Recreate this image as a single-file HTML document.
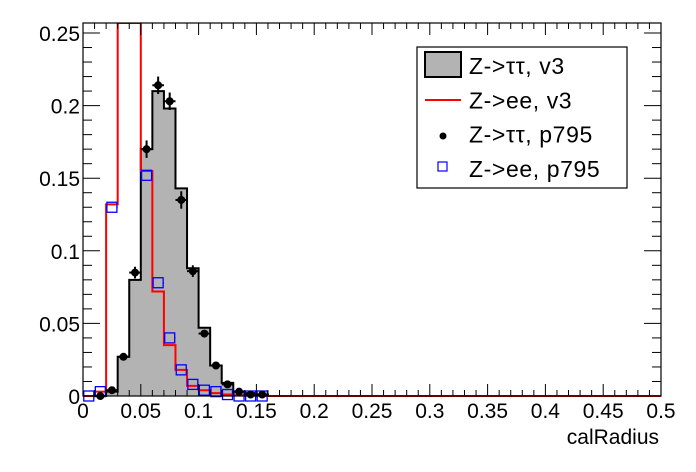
<!DOCTYPE html>
<html><head><meta charset="utf-8"><style>
body{margin:0;background:#fff;}
svg{display:block;font-family:"Liberation Sans",sans-serif;}
</style></head><body>
<svg id="s" width="696" height="472" xmlns="http://www.w3.org/2000/svg"></svg>
<script>
const L=83,R=661,T=23,B=396;
const X=v=>L+v*(R-L)/0.5, Y=v=>B-v*(B-33)/0.25;
let h='';
const blk={0.02:0.003,0.03:0.027,0.04:0.08,0.05:0.17,0.06:0.21,0.07:0.198,0.08:0.143,0.09:0.088,0.1:0.047,0.11:0.021,0.12:0.009,0.13:0.003,0.14:0.002,0.15:0.001};
let p='M'+X(0)+','+Y(0);
for(let i=0;i<16;i++){let x0=+(i*0.01).toFixed(2),v=blk[x0]||0;p+=' L'+X(x0)+','+Y(v)+' L'+X(x0+0.01)+','+Y(v);}
p+=' L'+X(0.16)+','+Y(0)+' L'+X(0.5)+','+Y(0);
h+=`<path d="${p} Z" fill="#b3b3b3" stroke="none"/><path d="${p}" fill="none" stroke="#000" stroke-width="2"/>`;
const red=[0,0.003,0.132,0.4,0.4,0.155,0.072,0.035,0.018,0.007,0.004,0.002,0.001,0.0005,0.0003,0.0002];
let q='M'+X(0)+','+Y(0);
red.forEach((v,i)=>{let y=Math.max(Y(v),T);q+=' L'+X(i*0.01)+','+y+' L'+X(i*0.01+0.01)+','+y;});
q+=' L'+X(0.16)+','+Y(0)+' L'+X(0.5)+','+Y(0);
h+=`<svg x="${L}" y="${T}" width="${R-L}" height="${B-T+2}" overflow="hidden"><path transform="translate(${-L},${-T})" d="${q}" fill="none" stroke="#f00" stroke-width="2"/></svg>`;
const bl=[[0.005,0],[0.015,0.003],[0.025,0.13],[0.055,0.152],[0.065,0.078],[0.075,0.04],[0.085,0.018],[0.095,0.008],[0.105,0.004],[0.115,0.003],[0.125,0.001],[0.135,0],[0.145,0],[0.155,0]];
bl.forEach(([x,v])=>{let cx=X(x),cy=Y(v);h+=`<line x1="${X(x-0.005)}" x2="${cx-5}" y1="${cy}" y2="${cy}" stroke="#00f" stroke-width="1.5"/><line x1="${cx+5}" x2="${X(x+0.005)}" y1="${cy}" y2="${cy}" stroke="#00f" stroke-width="1.5"/><rect x="${cx-5}" y="${cy-5}" width="10" height="10" fill="none" stroke="#00f" stroke-width="1.3"/>`;});
const bd=[[0.015,0],[0.025,0.004],[0.035,0.027],[0.045,0.085],[0.055,0.17],[0.065,0.214],[0.075,0.203],[0.085,0.135],[0.095,0.086],[0.105,0.043],[0.115,0.021],[0.125,0.008],[0.135,0.003],[0.145,0.001],[0.155,0.001]];
bd.forEach(([x,v])=>{let e=v>0.1?0.006:v>0.05?0.004:0.002;h+=`<line x1="${X(x-0.005)}" x2="${X(x+0.005)}" y1="${Y(v)}" y2="${Y(v)}" stroke="#000" stroke-width="2"/><line x1="${X(x)}" x2="${X(x)}" y1="${Y(v+e)}" y2="${Y(v-e)}" stroke="#000" stroke-width="2"/><circle cx="${X(x)}" cy="${Y(v)}" r="4" fill="#000"/>`;});
h+=`<rect x="${L}" y="${T}" width="${R-L}" height="${B-T}" fill="none" stroke="#000" stroke-width="1.2"/>`;
for(let i=0;i<=50;i++){let x=X(i*0.01),len=i%5==0?12:6;h+=`<line x1="${x}" x2="${x}" y1="${B}" y2="${B-len}" stroke="#000"/><line x1="${x}" x2="${x}" y1="${T}" y2="${T+len}" stroke="#000"/>`;
 if(i%5==0){let t=i==0?'0':(i/100).toString();h+=`<text x="${x}" y="418" font-size="21" text-anchor="middle">${t}</text>`;}}
for(let i=0;i<=25;i++){let y=Y(i*0.01),len=i%5==0?17:9;h+=`<line x1="${L}" x2="${L+len}" y1="${y}" y2="${y}" stroke="#000"/><line x1="${R}" x2="${R-len}" y1="${y}" y2="${y}" stroke="#000"/>`;
 if(i%5==0){let t=i==0?'0':(i/100).toString();h+=`<text x="80" y="${y+8}" font-size="21" text-anchor="end">${t}</text>`;}}
h+=`<text x="659" y="444" font-size="21" text-anchor="end">calRadius</text>`;
h+=`<rect x="417" y="47" width="210" height="141" fill="#fff" stroke="#000" stroke-width="1.2"/>`;
h+=`<rect x="425" y="52" width="36" height="25" fill="#b3b3b3" stroke="#000" stroke-width="2"/>`;
h+=`<line x1="425" x2="461" y1="100" y2="100" stroke="#f00" stroke-width="2"/>`;
h+=`<circle cx="443" cy="136" r="3.5" fill="#000"/><rect x="438" y="162" width="9" height="9" fill="none" stroke="#00f" stroke-width="1.2"/>`;
["Z->ττ, v3","Z->ee, v3","Z->ττ, p795","Z->ee, p795"].forEach((t,i)=>{h+=`<text x="469" y="${74+i*34.3}" font-size="23" letter-spacing="0.6">${t}</text>`;});
document.getElementById('s').innerHTML=h;
</script>
</body></html>
